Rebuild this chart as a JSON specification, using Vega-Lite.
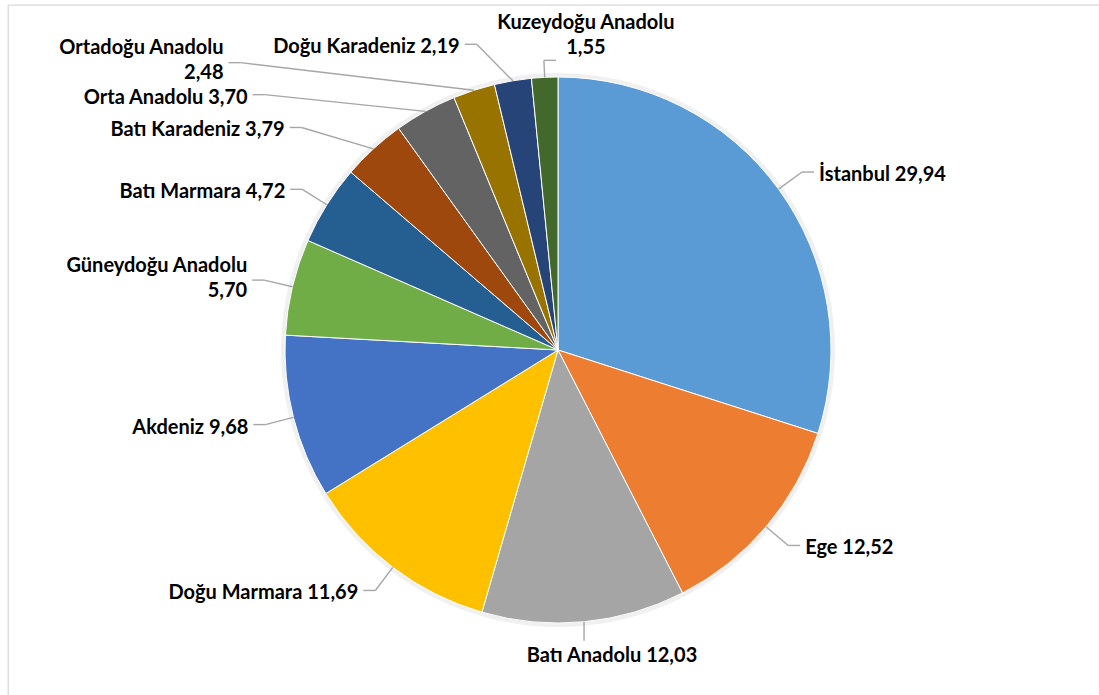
{
  "$schema": "https://vega.github.io/schema/vega-lite/v6.json",
  "width": 1092,
  "height": 691,
  "padding": {"left": 8, "top": 5, "right": -1, "bottom": -1},
  "autosize": {"type": "none"},
  "background": "white",
  "config": {
    "view": {"stroke": "#D9D9D9", "strokeWidth": 1.3},
    "text": {"font": "Lato", "fontWeight": "bold", "fontSize": 20, "color": "#000000", "lineHeight": 25}
  },
  "data": {
    "values": [
      {"region": "İstanbul", "value": 29.94},
      {"region": "Ege", "value": 12.52},
      {"region": "Batı Anadolu", "value": 12.03},
      {"region": "Doğu Marmara", "value": 11.69},
      {"region": "Akdeniz", "value": 9.68},
      {"region": "Güneydoğu Anadolu", "value": 5.70},
      {"region": "Batı Marmara", "value": 4.72},
      {"region": "Batı Karadeniz", "value": 3.79},
      {"region": "Orta Anadolu", "value": 3.70},
      {"region": "Ortadoğu Anadolu", "value": 2.48},
      {"region": "Doğu Karadeniz", "value": 2.19},
      {"region": "Kuzeydoğu Anadolu", "value": 1.55}
    ]
  },
  "transform": [
    {"calculate": "indexof(['İstanbul','Ege','Batı Anadolu','Doğu Marmara','Akdeniz','Güneydoğu Anadolu','Batı Marmara','Batı Karadeniz','Orta Anadolu','Ortadoğu Anadolu','Doğu Karadeniz','Kuzeydoğu Anadolu'], datum.region)", "as": "idx"},
    {"window": [{"op": "sum", "field": "value", "as": "cumEnd"}], "sort": [{"field": "idx"}], "frame": [null, 0]},
    {"joinaggregate": [{"op": "sum", "field": "value", "as": "total"}]},
    {"calculate": "360 * (datum.cumEnd - datum.value / 2) / datum.total", "as": "deg"},
    {"calculate": "sin(datum.deg * PI / 180)", "as": "sx"},
    {"calculate": "cos(datum.deg * PI / 180)", "as": "cy"},
    {"calculate": "datum.deg < 170 ? 'R' : datum.deg < 190 ? 'B' : datum.deg < 345 ? 'L' : datum.deg < 355 ? 'TL' : 'T'", "as": "side"},
    {"calculate": "replace(format(datum.value, '.2f'), '.', ',')", "as": "vtxt"},
    {"calculate": "length(datum.region) >= 16 ? [datum.region, datum.vtxt] : datum.region + ' ' + datum.vtxt", "as": "label"},
    {"calculate": "length(datum.region) >= 16 ? 2 : 1", "as": "nlines"},
    {"calculate": "273 * datum.sx", "as": "ex"},
    {"calculate": "273 * datum.cy", "as": "ey"},
    {"calculate": "datum.side == 'T' ? 290 : datum.side == 'B' ? 292 : datum.side == 'TL' ? 310 : 302", "as": "re"},
    {"calculate": "datum.re * datum.sx", "as": "nx"},
    {"calculate": "datum.re * datum.cy", "as": "ny"},
    {"window": [{"op": "lag", "field": "ny", "as": "prevNy"}, {"op": "lag", "field": "nlines", "as": "prevLines"}], "groupby": ["side"], "sort": [{"field": "deg", "order": "descending"}]},
    {"calculate": "datum.side == 'L' && isValid(datum.prevNy) ? min(datum.ny, datum.prevNy - (25 + 7 * (datum.nlines + datum.prevLines - 2))) : datum.ny", "as": "ely"},
    {"calculate": "datum.side == 'B' ? datum.ex : datum.side == 'L' ? datum.nx - max(0, datum.deg - 310) * 7 : datum.side == 'TL' ? datum.nx - 30 : datum.nx", "as": "elx"},
    {"calculate": "datum.side == 'R' || datum.side == 'T' ? datum.elx + 12 : datum.side == 'B' ? datum.elx : datum.elx - 12", "as": "hx"},
    {"calculate": "datum.ely + (datum.nlines - 1) * 17.5", "as": "ty"}
  ],
  "layer": [
    {
      "mark": {"type": "arc", "outerRadius": 277, "fill": "#000000", "opacity": 0.06, "x": {"expr": "scale('x', 0)"}, "y": {"expr": "scale('y', 0)"}},
      "encoding": {
        "theta": {"field": "value", "type": "quantitative", "stack": true},
        "order": {"field": "idx", "type": "quantitative"}
      }
    },
    {
      "mark": {"type": "arc", "outerRadius": 273, "stroke": "#ffffff", "strokeWidth": 1, "x": {"expr": "scale('x', 0)"}, "y": {"expr": "scale('y', 0)"}},
      "encoding": {
        "theta": {"field": "value", "type": "quantitative", "stack": true},
        "order": {"field": "idx", "type": "quantitative"},
        "color": {
          "field": "region",
          "type": "nominal",
          "legend": null,
          "scale": {
            "domain": ["İstanbul","Ege","Batı Anadolu","Doğu Marmara","Akdeniz","Güneydoğu Anadolu","Batı Marmara","Batı Karadeniz","Orta Anadolu","Ortadoğu Anadolu","Doğu Karadeniz","Kuzeydoğu Anadolu"],
            "range": ["#5B9BD5","#ED7D31","#A5A5A5","#FFC000","#4472C4","#70AD47","#255E91","#9E480E","#636363","#997300","#264478","#43682B"]
          }
        }
      }
    },
    {
      "mark": {"type": "rule", "color": "#A6A6A6", "strokeWidth": 1.4},
      "encoding": {
        "x": {"field": "ex", "type": "quantitative", "scale": {"domain": [-550, 542], "nice": false, "zero": false}, "axis": null},
        "y": {"field": "ey", "type": "quantitative", "scale": {"domain": [-346, 345], "nice": false, "zero": false}, "axis": null},
        "x2": {"field": "elx"},
        "y2": {"field": "ely"}
      }
    },
    {
      "mark": {"type": "rule", "color": "#A6A6A6", "strokeWidth": 1.4},
      "encoding": {
        "x": {"field": "elx", "type": "quantitative"},
        "y": {"field": "ely", "type": "quantitative"},
        "x2": {"field": "hx"},
        "y2": {"field": "ely"}
      }
    },
    {
      "transform": [{"filter": "datum.side == 'R'"}],
      "mark": {"type": "text", "align": "left", "baseline": "middle", "dx": 5, "dy": 3},
      "encoding": {
        "x": {"field": "hx", "type": "quantitative"},
        "y": {"field": "ty", "type": "quantitative"},
        "text": {"field": "label"}
      }
    },
    {
      "transform": [{"filter": "datum.side == 'L' || datum.side == 'TL'"}],
      "mark": {"type": "text", "align": "right", "baseline": "middle", "dx": -5, "dy": 3},
      "encoding": {
        "x": {"field": "hx", "type": "quantitative"},
        "y": {"field": "ty", "type": "quantitative"},
        "text": {"field": "label"}
      }
    },
    {
      "transform": [{"filter": "datum.side == 'B'"}],
      "mark": {"type": "text", "align": "center", "baseline": "middle", "dx": 28, "dy": 15},
      "encoding": {
        "x": {"field": "hx", "type": "quantitative"},
        "y": {"field": "ty", "type": "quantitative"},
        "text": {"field": "label"}
      }
    },
    {
      "transform": [{"filter": "datum.side == 'T'"}],
      "mark": {"type": "text", "align": "center", "baseline": "middle", "dx": 30, "dy": -19.5},
      "encoding": {
        "x": {"field": "hx", "type": "quantitative"},
        "y": {"field": "ty", "type": "quantitative"},
        "text": {"field": "label"}
      }
    }
  ]
}
